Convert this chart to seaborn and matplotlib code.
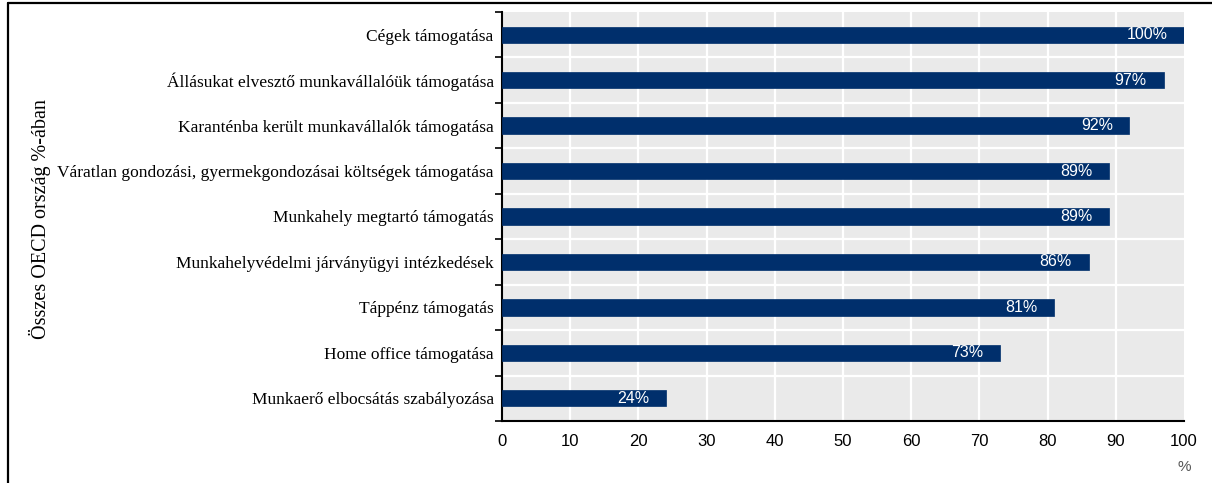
import matplotlib
matplotlib.use("Agg")
import matplotlib.pyplot as plt
import seaborn as sns
import pandas as pd
from matplotlib.lines import Line2D

categories = [
    "Cégek támogatása",
    "Állásukat elvesztő munkavállalóük támogatása",
    "Karanténba került munkavállalók támogatása",
    "Váratlan gondozási, gyermekgondozásai költségek támogatása",
    "Munkahely megtartó támogatás",
    "Munkahelyvédelmi járványügyi intézkedések",
    "Táppénz támogatás",
    "Home office támogatása",
    "Munkaerő elbocsátás szabályozása",
]
values = [100, 97, 92, 89, 89, 86, 81, 73, 24]
x_ticks = [0, 10, 20, 30, 40, 50, 60, 70, 80, 90, 100]
y_label = "Összes OECD ország %-ában"
x_unit = "%"

df = pd.DataFrame({"cat": categories, "val": values})

sns.set_theme(style="white")
plt.rcParams["font.family"] = ["Liberation Sans", "DejaVu Sans"]
plt.rcParams["text.color"] = "black"
plt.rcParams["xtick.color"] = "black"
plt.rcParams["ytick.color"] = "black"
plt.rcParams["axes.labelcolor"] = "black"

fig = plt.figure(figsize=(12.12, 4.83), dpi=100)
ax = fig.add_axes([502 / 1212, 1 - 421 / 483, (1184 - 502) / 1212, (421 - 12) / 483])
ax.set_facecolor("#EAEAEA")

sns.barplot(data=df, x="val", y="cat", orient="h", color="#002F6C",
            saturation=1, width=0.36, ax=ax, zorder=3, edgecolor="#002F6C", linewidth=0.5)

n = len(categories)
ax.set_xlim(0, 100)
ax.set_ylim(n - 0.5, -0.5)

# grid
for xv in x_ticks[1:-1]:
    ax.axvline(xv, color="white", lw=1.6, zorder=1)
for i in range(1, n):
    ax.axhline(i - 0.5, color="white", lw=1.6, zorder=1)

ax.set_xticks(x_ticks)
ax.set_xticklabels([str(t) for t in x_ticks], fontsize=12, fontfamily="Liberation Sans",
                   color="black")
ax.set_yticks(range(n))
ax.set_yticklabels(categories, fontsize=12.5, fontfamily="Liberation Serif", color="black")
ax.tick_params(axis="y", length=0, pad=6)
ax.tick_params(axis="x", direction="in", length=5, width=1.2, color="black", pad=9)

# minor y ticks at boundaries
ax.set_yticks([i - 0.5 for i in range(n + 1)], minor=True)
ax.tick_params(axis="y", which="minor", direction="out", length=5, width=1.2, color="black", left=True)

for s in ["top", "right"]:
    ax.spines[s].set_visible(False)
for s in ["left", "bottom"]:
    ax.spines[s].set_color("black")
    ax.spines[s].set_linewidth(1.5)

ax.set_xlabel("")
ax.set_ylabel("")

labels = [f"{v}%" for v in values]
texts = ax.bar_label(ax.containers[0], labels=labels, padding=-12,
                     color="white", fontsize=11.5, fontfamily="Liberation Sans")
for t in texts:
    t.set_ha("right")
    t.set_zorder(5)

fig.text(40 / 1212, 1 - 219 / 483, y_label, rotation=90, ha="center", va="center",
         fontsize=14.5, fontfamily="Liberation Serif", color="black")
fig.text(1184 / 1212, 1 - 467 / 483, x_unit, ha="center", va="center",
         fontsize=11, color="#555555", fontfamily="Liberation Sans")

# figure frame (top and left)
fig.add_artist(Line2D([8 / 1212, 1], [1 - 3 / 483, 1 - 3 / 483], color="black", lw=1.6,
                      transform=fig.transFigure))
fig.add_artist(Line2D([8 / 1212, 8 / 1212], [0, 1 - 3 / 483], color="black", lw=1.6,
                      transform=fig.transFigure))

fig.savefig("out.png", dpi=100)
